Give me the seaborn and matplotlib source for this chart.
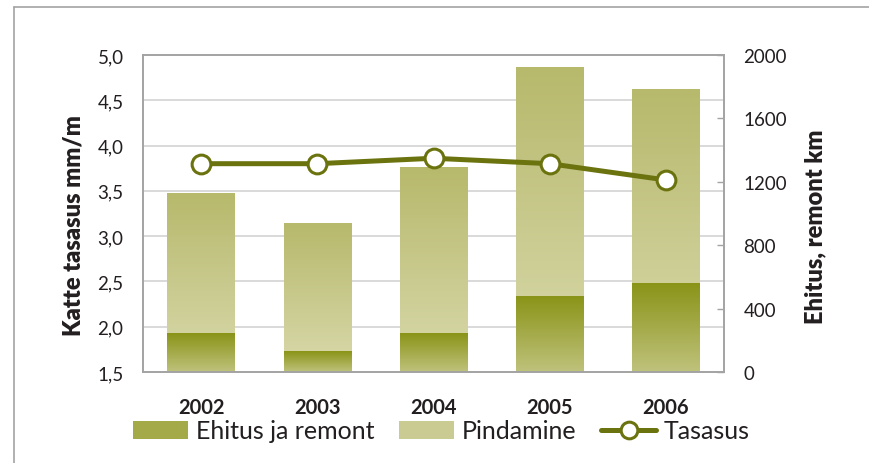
import numpy as np
import pandas as pd
import matplotlib
matplotlib.use("Agg")
import matplotlib.pyplot as plt
import seaborn as sns
from matplotlib.colors import LinearSegmentedColormap
from matplotlib.patches import Patch
from matplotlib.lines import Line2D
from matplotlib.ticker import FixedLocator, FuncFormatter

# ---- data ----
years = ["2002", "2003", "2004", "2005", "2006"]
ehitus = [246, 132, 246, 479, 561]          # Ehitus ja remont, km
pindamine = [883, 808, 1047, 1445, 1224]    # Pindamine, km
tasasus = [3.80, 3.80, 3.86, 3.80, 3.62]    # Tasasus, mm/m
left_ticks = [1.5, 2.0, 2.5, 3.0, 3.5, 4.0, 4.5, 5.0]
right_ticks = [0, 400, 800, 1200, 1600, 2000]

EH_TOP, EH_BOT = "#8a9418", "#bfc27c"
PI_TOP, PI_BOT = "#b7b96c", "#d9daad"
LINE = "#6b730f"
GRAY = "#a3a3a3"
TXT = "#231f20"

sns.set_theme(style="white")
plt.rcParams["font.family"] = ["Lato", "DejaVu Sans"]

total = [e + p for e, p in zip(ehitus, pindamine)]
df = pd.DataFrame({"year": years, "ehitus": ehitus, "total": total, "tasasus": tasasus})

fig = plt.figure(figsize=(8.7, 4.64), dpi=100)
ax = fig.add_axes([143 / 870, 1 - 373 / 464, (724 - 143) / 870, (373 - 56) / 464])

sns.barplot(data=df, x="year", y="total", color=PI_BOT, width=0.58, saturation=1, ax=ax)
sns.barplot(data=df, x="year", y="ehitus", color=EH_TOP, width=0.58, saturation=1, ax=ax)
ax.set_ylim(0, 2000)
ax.set_xlim(-0.5, 4.5)

# gradient fills
grad = np.linspace(0, 1, 256).reshape(-1, 1)
cm_p = LinearSegmentedColormap.from_list("p", [PI_BOT, PI_TOP])
cm_e = LinearSegmentedColormap.from_list("e", [EH_BOT, EH_TOP])
patches = list(ax.patches)
for i, p in enumerate(patches):
    cmap = cm_p if i < 5 else cm_e
    x0, y0, w, h = p.get_x(), p.get_y(), p.get_width(), p.get_height()
    ax.imshow(grad, cmap=cmap, origin="lower", aspect="auto",
              extent=[x0, x0 + w, y0, y0 + h], zorder=2 + (0.1 if i >= 5 else 0))
    p.set_visible(False)
ax.set_ylim(0, 2000)
ax.set_xlim(-0.5, 4.5)

# left axis (line) on a twin
axl = ax.twinx()
sns.pointplot(data=df, x="year", y="tasasus", ax=axl, color=LINE, errorbar=None,
              markers="o", linewidth=3.6, markersize=13.5, markerfacecolor="white",
              markeredgecolor=LINE, markeredgewidth=2.2)
axl.set_xlim(-0.5, 4.5)
axl.set_ylim(1.5, 5.0)

# right axis (bars)
ax.yaxis.tick_right()
ax.yaxis.set_label_position("right")
ax.set_yticks(right_ticks)
ax.set_yticklabels([str(t) for t in right_ticks])
grid_pos = [(v - 1.5) / 3.5 * 2000 for v in left_ticks[1:-1]]
ax.yaxis.set_minor_locator(FixedLocator(grid_pos))
ax.set_axisbelow(True)
ax.grid(which="minor", axis="y", color="#d3d3d3", lw=1.2, zorder=0)
ax.grid(which="major", visible=False)
ax.tick_params(axis="y", which="minor", length=0, right=False, left=False)
ax.tick_params(axis="y", which="major", direction="in", length=5, width=1,
               color=GRAY, labelsize=13.5, labelcolor=TXT, pad=14, right=True, left=False,
               labelright=True, labelleft=False)
ax.set_ylabel("Ehitus, remont km", fontsize=17, fontweight="heavy", color=TXT)
ax.yaxis.set_label_coords(1.139, 0.46)
ax.set_xlabel("")
ax.tick_params(axis="x", length=0, pad=18, labelsize=14.5, labelcolor=TXT)
for lab in ax.get_xticklabels():
    lab.set_fontweight("bold")
for s in ax.spines.values():
    s.set_visible(True)
    s.set_color(GRAY)
    s.set_linewidth(1.4)

axl.yaxis.tick_left()
axl.yaxis.set_label_position("left")
axl.set_yticks(left_ticks)
axl.yaxis.set_major_formatter(FuncFormatter(lambda v, _: f"{v:.1f}".replace(".", ",")))
axl.tick_params(axis="y", length=0, labelsize=13.5, labelcolor=TXT, pad=14, right=False, left=True,
                labelleft=True, labelright=False)
axl.set_ylabel("Katte tasasus mm/m", fontsize=17, fontweight="heavy", color=TXT)
axl.yaxis.set_label_coords(-0.1015, 0.464)
axl.set_xlabel("")
axl.grid(False)
for s in axl.spines.values():
    s.set_visible(False)

# legend
handles = [
    Patch(facecolor="#a4aa48", edgecolor="none"),
    Patch(facecolor="#c9cb92", edgecolor="none"),
    Line2D([], [], color=LINE, lw=3.6, marker="o", ms=12, mfc="white", mec=LINE, mew=2.2),
]
labels = ["Ehitus ja remont", "Pindamine", "Tasasus"]
fig.legend(handles, labels, loc="center", bbox_to_anchor=(441.5 / 870, 1 - 432 / 464),
           ncol=3, frameon=False, fontsize=18, handlelength=2.2, handleheight=0.75,
           columnspacing=1.0, handletextpad=0.3, labelcolor=TXT, borderpad=0.2)

# outer frame
fig.add_artist(Line2D([14 / 870, 14 / 870], [0, 1 - 8 / 464], transform=fig.transFigure,
                      color=GRAY, lw=1.2))
fig.add_artist(Line2D([14 / 870, 1], [1 - 8 / 464, 1 - 8 / 464], transform=fig.transFigure,
                      color=GRAY, lw=1.2))

fig.savefig("out.png", dpi=100, facecolor="white")
